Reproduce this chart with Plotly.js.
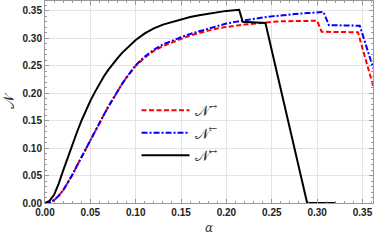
<!DOCTYPE html>
<html><head><meta charset="utf-8">
<script src="https://cdn.plot.ly/plotly-3.0.1.min.js"></script>
<style>html,body{margin:0;padding:0;background:#fff}#c{width:374px;height:240px}</style>
</head><body><div id="c"></div>
<script>
const alphaBoth = [0,0.005,0.01,0.015,0.02,0.025,0.03,0.035,0.04,0.045,0.05,0.055,0.06,0.065,0.07,0.075,0.08,0.085,0.09,0.095,0.10,0.11,0.12,0.13,0.14,0.15,0.16,0.17,0.18,0.19,0.20,0.214,0.218,0.243,0.289,0.32];
const nBoth = [0,0.004,0.015,0.035,0.059,0.083,0.106,0.128,0.149,0.168,0.186,0.202,0.217,0.231,0.243,0.254,0.264,0.2735,0.282,0.290,0.297,0.309,0.318,0.325,0.330,0.335,0.339,0.342,0.345,0.348,0.350,0.352,0.330,0.328,0,0];

const alphaRight = [0,0.005,0.01,0.015,0.02,0.025,0.03,0.035,0.04,0.045,0.05,0.055,0.06,0.065,0.07,0.075,0.08,0.085,0.09,0.095,0.10,0.11,0.12,0.13,0.14,0.15,0.16,0.17,0.18,0.19,0.20,0.21,0.22,0.23,0.24,0.25,0.26,0.28,0.30,0.305,0.345,0.362];
const nRight = [0,0.001,0.005,0.013,0.023,0.036,0.051,0.067,0.083,0.098,0.114,0.130,0.146,0.161,0.176,0.190,0.204,0.217,0.229,0.240,0.250,0.265,0.277,0.286,0.293,0.299,0.305,0.310,0.314,0.318,0.321,0.323,0.325,0.327,0.329,0.330,0.331,0.332,0.332,0.312,0.311,0.212];

const alphaLeft = [0,0.005,0.01,0.015,0.02,0.025,0.03,0.035,0.04,0.045,0.05,0.055,0.06,0.065,0.07,0.075,0.08,0.085,0.09,0.095,0.10,0.11,0.12,0.13,0.14,0.15,0.16,0.17,0.18,0.19,0.20,0.21,0.22,0.23,0.24,0.25,0.26,0.27,0.28,0.29,0.30,0.307,0.313,0.347,0.362];
const nLeft = [0,0.001,0.005,0.013,0.023,0.036,0.051,0.067,0.083,0.098,0.114,0.130,0.146,0.161,0.176,0.190,0.204,0.217,0.229,0.240,0.251,0.267,0.279,0.289,0.296,0.302,0.308,0.313,0.318,0.322,0.327,0.330,0.333,0.336,0.338,0.340,0.342,0.343,0.345,0.346,0.347,0.348,0.324,0.323,0.245];

const labels = ['𝒩<sup>→</sup>','𝒩<sup>←</sup>','𝒩<sup>↔</sup>'];
const xTicks = [0,0.05,0.10,0.15,0.20,0.25,0.30,0.35];
const yTicks = [0,0.05,0.10,0.15,0.20,0.25,0.30,0.35];

const traces = [
  {x: alphaRight, y: nRight, name: labels[0], mode:'lines', line:{color:'#ff0000', width:2, dash:'5px,2.5px'}},
  {x: alphaLeft, y: nLeft, name: labels[1], mode:'lines', line:{color:'#0000ff', width:2, dash:'6px,2px,2px,2px'}},
  {x: alphaBoth, y: nBoth, name: labels[2], mode:'lines', line:{color:'#000000', width:2}}
];
const tickFont = {family:'Liberation Sans, Arial, sans-serif', size:10, color:'#222', weight:'bold'};
const axisCommon = {
  showline:true, linecolor:'#999', linewidth:1, mirror:'ticks',
  ticks:'inside', ticklen:4, tickcolor:'#999', tickwidth:1,
  showgrid:true, gridcolor:'#e4e4e4', gridwidth:1, zeroline:false,
  tickfont: tickFont, tickformat:'.2f',
  minor:{ticks:'inside', ticklen:2, tickcolor:'#999', dtick:0.01, showgrid:false}
};
const layout = {
  width:374, height:240,
  margin:{l:45, r:1, t:1, b:37},
  paper_bgcolor:'#fff', plot_bgcolor:'#fff',
  showlegend:true,
  legend:{x:0.279, y:0.54, xanchor:'left', yanchor:'top', bgcolor:'rgba(0,0,0,0)',
          font:{family:'DejaVu Serif, serif', size:15, color:'#333'}, itemwidth:48},
  xaxis: Object.assign({}, axisCommon, {range:[0,0.3616], tickvals:xTicks, autorange:false,
        title:{text:'α', font:{family:'DejaVu Serif, serif', size:12, color:'#333', style:'italic'}, standoff:6}}),
  yaxis: Object.assign({}, axisCommon, {range:[0,0.368], tickvals:yTicks, autorange:false,
        title:{text:'𝒩', font:{family:'DejaVu Serif, serif', size:15, color:'#333'}, standoff:4}})
};
Plotly.newPlot('c', traces, layout, {displayModeBar:false, staticPlot:true});
</script></body></html>
